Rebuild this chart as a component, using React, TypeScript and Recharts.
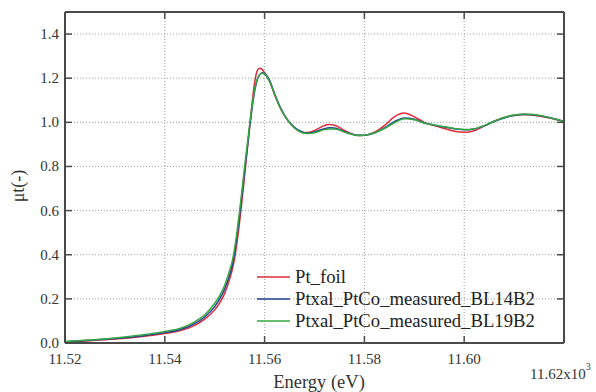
import { LineChart, Line, XAxis, YAxis, CartesianGrid, Legend, Label } from "recharts";

// energy in keV (axis is labelled x10^3 eV)
const energy = [
  11.52, 11.525, 11.53, 11.535, 11.54, 11.543, 11.546, 11.548, 11.55, 11.551,
  11.552, 11.553, 11.5535, 11.554, 11.5545, 11.555, 11.556, 11.557, 11.558, 11.5585,
  11.559, 11.5595, 11.56, 11.561, 11.562, 11.563, 11.564, 11.565, 11.566, 11.567,
  11.568, 11.569, 11.57, 11.571, 11.572, 11.573, 11.574, 11.575, 11.576, 11.577,
  11.578, 11.579, 11.58, 11.582, 11.584, 11.586, 11.588, 11.59, 11.592, 11.594,
  11.596, 11.598, 11.6, 11.602, 11.604, 11.606, 11.608, 11.61, 11.612, 11.614,
  11.616, 11.618, 11.62,
];

const ptFoil = [
  0.003, 0.01, 0.018, 0.028, 0.043, 0.055, 0.08, 0.108, 0.15, 0.182,
  0.225, 0.29, 0.33, 0.385, 0.46, 0.55, 0.76, 0.98, 1.18, 1.232,
  1.245, 1.24, 1.225, 1.185, 1.125, 1.072, 1.03, 0.998, 0.975, 0.96,
  0.953, 0.955, 0.963, 0.975, 0.986, 0.99, 0.987, 0.977, 0.963, 0.952,
  0.944, 0.94, 0.941, 0.955, 0.985, 1.025, 1.042, 1.025, 1.0, 0.985,
  0.972, 0.96, 0.955, 0.962, 0.983, 1.005, 1.022, 1.032, 1.035, 1.032,
  1.024, 1.015, 1.004,
];

const bl14b2 = [
  0.005, 0.012, 0.02, 0.031, 0.047, 0.06, 0.088, 0.118, 0.165, 0.2,
  0.245, 0.31, 0.35, 0.41, 0.49, 0.58, 0.78, 0.975, 1.14, 1.19,
  1.215, 1.225, 1.222, 1.19, 1.13, 1.075, 1.032, 1.0, 0.977, 0.962,
  0.953, 0.951, 0.956, 0.964, 0.971, 0.975, 0.974, 0.968, 0.958, 0.95,
  0.944, 0.941, 0.942, 0.952, 0.975, 1.003, 1.02, 1.014, 0.997, 0.987,
  0.979, 0.971, 0.966, 0.97, 0.984, 1.004, 1.02, 1.031, 1.036, 1.034,
  1.026, 1.016, 1.004,
];

const bl19b2 = [
  0.007, 0.014, 0.023, 0.035, 0.052, 0.066, 0.096, 0.128, 0.18, 0.215,
  0.262, 0.33, 0.37, 0.43, 0.51, 0.6, 0.8, 0.99, 1.15, 1.195,
  1.215, 1.222, 1.218, 1.185, 1.128, 1.072, 1.03, 0.998, 0.975, 0.958,
  0.95, 0.949, 0.953, 0.96, 0.967, 0.97, 0.97, 0.965, 0.956, 0.948,
  0.943, 0.94, 0.942, 0.952, 0.972, 0.998, 1.016, 1.012, 0.997, 0.988,
  0.98, 0.972, 0.967, 0.971, 0.985, 1.005, 1.022, 1.033, 1.038, 1.036,
  1.027, 1.016, 1.004,
];

const xTicks = [11.52, 11.54, 11.56, 11.58, 11.6, 11.62];
const yTicks = [0, 0.2, 0.4, 0.6, 0.8, 1.0, 1.2, 1.4];

const series = [
  { key: "ptFoil", name: "Pt_foil", color: "#de2d3c" },
  { key: "bl14b2", name: "Ptxal_PtCo_measured_BL14B2", color: "#25408f" },
  { key: "bl19b2", name: "Ptxal_PtCo_measured_BL19B2", color: "#35a844" },
];

const data = energy.map((e, i) => ({
  energy: e,
  ptFoil: ptFoil[i],
  bl14b2: bl14b2[i],
  bl19b2: bl19b2[i],
}));

const FONT = "Liberation Serif, Tinos, Times New Roman, DejaVu Serif, serif";
const FRAME = "#4a4a4a";
const TEXT = "#333";

const txt = { fontFamily: FONT, fill: TEXT } as const;

const BottomTick = ({ x, y, payload }: any) => {
  const v = payload.value as number;
  const last = Math.abs(v - 11.62) < 1e-6;
  return (
    <g>
      <line x1={x} x2={x} y1={y} y2={y - 7} stroke={FRAME} strokeWidth={1.5} />
      {last ? (
        <text x={x - 34} y={y + 36} fontSize={15} style={txt}>
          11.62x10
          <tspan dy={-9} fontSize={10}>3</tspan>
        </text>
      ) : (
        <text x={x} y={y + 21} textAnchor="middle" fontSize={15} style={txt}>
          {v.toFixed(2)}
        </text>
      )}
    </g>
  );
};

const TopTick = ({ x, y }: any) => (
  <line x1={x} x2={x} y1={y} y2={y + 7} stroke={FRAME} strokeWidth={1.5} />
);

const LeftTick = ({ x, y, payload }: any) => (
  <g>
    <line x1={x} x2={x + 7} y1={y} y2={y} stroke={FRAME} strokeWidth={1.5} />
    <text x={x - 6} y={y + 5} textAnchor="end" fontSize={15} style={txt}>
      {(payload.value as number).toFixed(1)}
    </text>
  </g>
);

const RightTick = ({ x, y }: any) => (
  <line x1={x} x2={x - 7} y1={y} y2={y} stroke={FRAME} strokeWidth={1.5} />
);

const LegendBox = () => (
  <div style={{ fontFamily: FONT, fontSize: 18.7, color: "#222" }}>
    {series.map((s) => (
      <div key={s.key} style={{ height: 22, display: "flex", alignItems: "center" }}>
        <svg width={40} height={22} style={{ flexShrink: 0 }}>
          <line x1={2} x2={35} y1={11} y2={11} stroke={s.color} strokeWidth={1.5} />
        </svg>
        <span style={{ whiteSpace: "nowrap", lineHeight: "22px" }}>{s.name}</span>
      </div>
    ))}
  </div>
);

export default function App() {
  return (
    <div style={{ position: "absolute", left: 0, top: 0, background: "#fff" }}>
      <LineChart
        width={596}
        height={392}
        data={data}
        margin={{ top: 11, right: 31, left: 0, bottom: 0 }}
      >
        <CartesianGrid stroke="#a0a0a0" strokeDasharray="1 2" strokeWidth={1} />
        <XAxis
          dataKey="energy"
          type="number"
          domain={[11.52, 11.62]}
          ticks={xTicks}
          allowDataOverflow
          height={49}
          tickSize={0}
          tickMargin={0}
          tick={BottomTick}
          axisLine={{ stroke: FRAME, strokeWidth: 2 }}
          tickLine={false}
        >
          <Label
            content={() => (
              <text x={319} y={388} textAnchor="middle" fontSize={18.5} style={txt}>
                Energy (eV)
              </text>
            )}
          />
        </XAxis>
        <XAxis
          xAxisId="top"
          orientation="top"
          dataKey="energy"
          type="number"
          domain={[11.52, 11.62]}
          ticks={xTicks}
          allowDataOverflow
          height={1}
          tickSize={0}
          tickMargin={0}
          tick={TopTick}
          axisLine={{ stroke: FRAME, strokeWidth: 2 }}
          tickLine={false}
        />
        <YAxis
          type="number"
          domain={[0, 1.5]}
          ticks={yTicks}
          allowDataOverflow
          width={65}
          tickSize={0}
          tickMargin={0}
          tick={LeftTick}
          axisLine={{ stroke: FRAME, strokeWidth: 2 }}
          tickLine={false}
        >
          <Label
            content={() => (
              <text
                transform="translate(24,186) rotate(-90)"
                textAnchor="middle"
                fontSize={18}
                style={txt}
              >
                μt(-)
              </text>
            )}
          />
        </YAxis>
        <YAxis
          yAxisId="right"
          orientation="right"
          type="number"
          domain={[0, 1.5]}
          ticks={yTicks}
          allowDataOverflow
          width={1}
          tickSize={0}
          tickMargin={0}
          tick={RightTick}
          axisLine={{ stroke: FRAME, strokeWidth: 2 }}
          tickLine={false}
        />
        {series.map((s) => (
          <Line
            key={s.key}
            type="monotone"
            dataKey={s.key}
            name={s.name}
            stroke={s.color}
            strokeWidth={1.5}
            dot={false}
            isAnimationActive={false}
          />
        ))}
        <Legend
          layout="vertical"
          align="center"
          verticalAlign="middle"
          wrapperStyle={{ left: 255, top: 266, width: 320, height: 66 }}
          content={LegendBox}
        />
      </LineChart>
    </div>
  );
}
